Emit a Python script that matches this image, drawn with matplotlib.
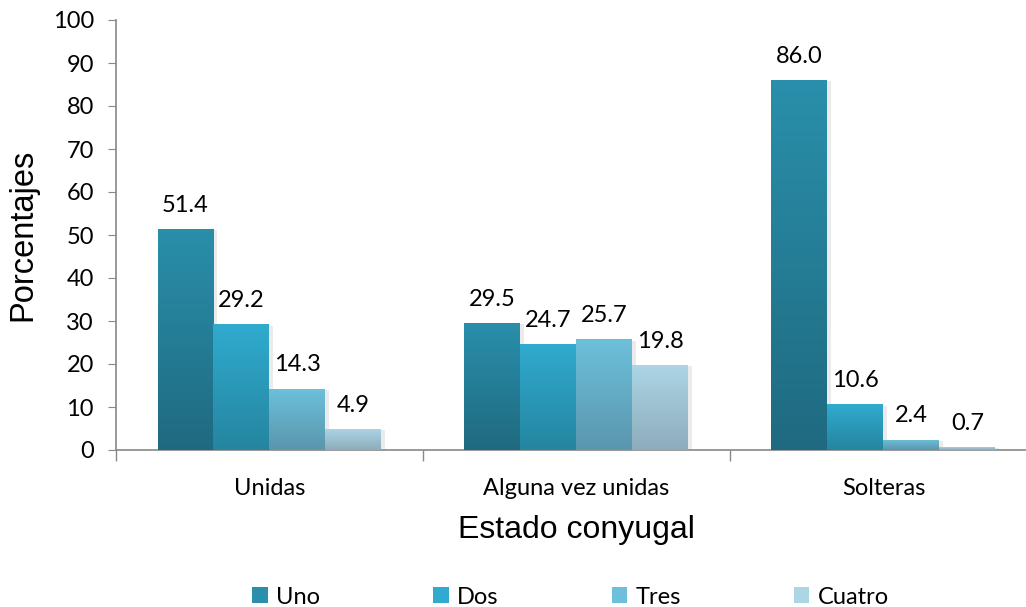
import matplotlib
matplotlib.use('Agg')
import matplotlib.pyplot as plt
from matplotlib.colors import LinearSegmentedColormap
import numpy as np

categories = ['Unidas', 'Alguna vez unidas', 'Solteras']
series = ['Uno', 'Dos', 'Tres', 'Cuatro']
values = {
    'Uno': [51.4, 29.5, 86.0],
    'Dos': [29.2, 24.7, 10.6],
    'Tres': [14.3, 25.7, 2.4],
    'Cuatro': [4.9, 19.8, 0.7],
}
# (top, bottom) gradient colours
colors = {
    'Uno': ('#2a8fab', '#1f6a80'),
    'Dos': ('#30abcf', '#2585a0'),
    'Tres': ('#6dc0db', '#5a96ad'),
    'Cuatro': ('#abd6e6', '#8eacbb'),
}

fig = plt.figure(figsize=(10.26, 6.07), dpi=100)
ax = fig.add_axes([116 / 1026, 1 - 450 / 607, 921 / 1026, 430 / 607])

x = np.arange(len(categories))
w = 56 / 307
grad = np.linspace(1, 0, 256).reshape(-1, 1)

for i, s in enumerate(series):
    pos = x + (i - 1.5) * w
    top, bot = colors[s]
    bars = ax.bar(pos, values[s], w, color=top, label=s, zorder=2)
    cmap = LinearSegmentedColormap.from_list(s, [bot, top])
    for b, v in zip(bars, values[s]):
        x0 = b.get_x()
        # soft shadow to the right
        ax.bar(x0 + w / 2 + 0.012, v, w, bottom=-0.3, color='#000000', alpha=0.08, zorder=1, linewidth=0)
        im = ax.imshow(grad, extent=[x0, x0 + w, 0, v], aspect='auto', cmap=cmap, zorder=3)
        im.set_clip_path(b)
        ax.text(x0 + w / 2, v + 4.0, f'{v:.1f}', ha='center', va='baseline',
                fontsize=17, family='Lato', color='#000000', zorder=4)

ax.set_xlim(-0.5, 2.5)
ax.set_ylim(0, 100)
ax.set_yticks(np.arange(0, 101, 10))
ax.set_xticks(x)
ax.set_xticklabels(categories, fontsize=17, family='Lato')
ax.set_xticks([-0.5, 0.5, 1.5, 2.5], minor=True)
ax.tick_params(axis='x', which='major', length=0, pad=20)
ax.tick_params(axis='x', which='minor', length=8, color='#888888', width=1)
ax.tick_params(axis='y', length=6, color='#888888', labelsize=17, pad=10)
for lbl in ax.get_yticklabels():
    lbl.set_family('Lato')

for sp in ['top', 'right']:
    ax.spines[sp].set_visible(False)
for sp in ['left', 'bottom']:
    ax.spines[sp].set_color('#888888')
    ax.spines[sp].set_linewidth(1.2)

ax.set_ylabel('Porcentajes', fontsize=23.5, family='Liberation Sans', labelpad=10)
ax.set_xlabel('Estado conyugal', fontsize=23, family='Liberation Sans', labelpad=12)

handles, labels = ax.get_legend_handles_labels()
leg = fig.legend(handles, labels, loc='lower center', bbox_to_anchor=(0.556, -0.036), ncol=4,
                 frameon=False, prop={'family': 'Lato', 'size': 17},
                 handlelength=0.65, handleheight=0.65, handletextpad=0.35, columnspacing=4.8)

fig.savefig('out.png', dpi=100)
